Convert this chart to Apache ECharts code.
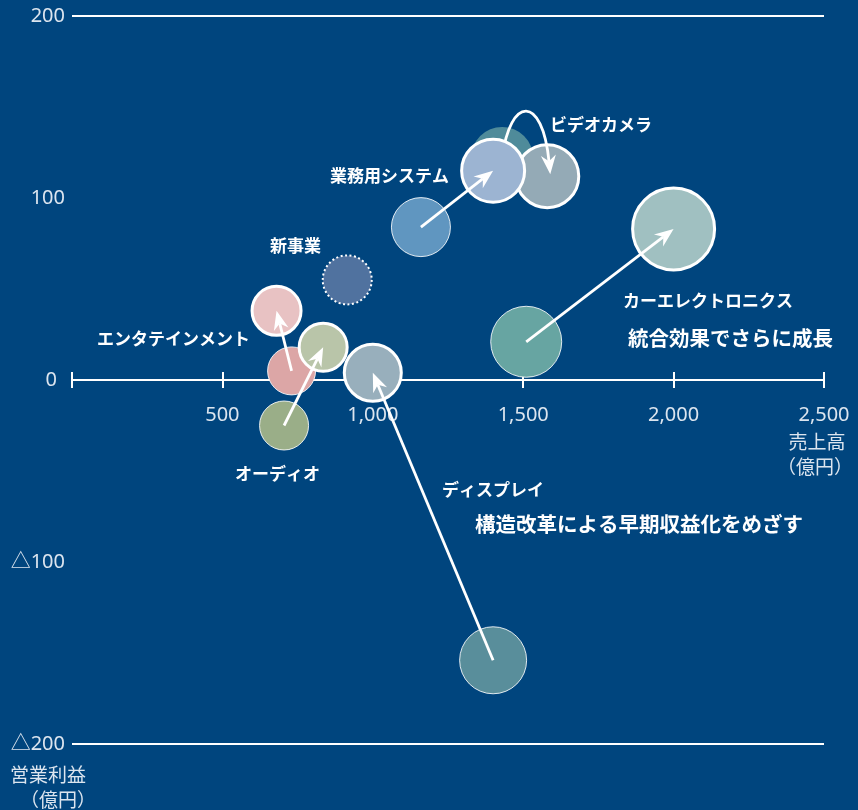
<!DOCTYPE html>
<html>
<head>
<meta charset="utf-8">
<script src="https://cdn.jsdelivr.net/npm/echarts@6/dist/echarts.min.js"></script>
<style>
html,body{margin:0;padding:0;background:#00457e;}
#chart{width:858px;height:810px;}
</style>
</head>
<body>
<div id="chart"></div>
<script>
// ---- data ----
const segments = ['ビデオカメラ', '業務用システム', 'カーエレクトロニクス', 'ディスプレイ', 'オーディオ', 'エンタテインメント'];
const salesBefore  = [1430, 1160, 1510, 1400, 705, 730];
const profitBefore = [122, 84, 21, -154, -25, 5];
const salesAfter   = [1580, 1400, 2000, 1000, 835, 680];
const profitAfter  = [112, 115, 83, 4, 18, 38];
const sizeBefore   = [62, 59, 71, 67, 49, 48];
const sizeAfter    = [63, 63, 82, 57, 48, 49];
const newBizName = '新事業';
const newBizSales = [915];
const newBizProfit = [55];
const newBizSize = [49];
const salesTicks = [0, 500, 1000, 1500, 2000, 2500];
const profitTicks = [-200, -100, 0, 100, 200];
const xAxisName = ['売上高', '（億円）'];
const yAxisName = ['営業利益', '（億円）'];
const notes = ['統合効果でさらに成長', '構造改革による早期収益化をめざす'];

// ---- styles ----
const BG = '#00457e';
const colorsBefore = ['#4f8b9a', '#6096c0', '#67a5a2', '#598e9b', '#9aae88', '#dca6a6'];
const colorsAfter  = ['#94aab6', '#9cb4d2', '#a0c0c1', '#98afbc', '#b9c5a9', '#e8c2c3'];
const newBizColor = '#50729f';
const tickColor = '#dce5ef';
const JP = '"Noto Sans CJK JP", "Noto Sans", sans-serif';
const NUM = '"Noto Sans", sans-serif';

const GRID_TOP = 16, GRID_BOTTOM = 66, CHART_H = 810;
const plotH = CHART_H - GRID_TOP - GRID_BOTTOM;
const zeroShift = -plotH * (0 - profitTicks[0]) / (profitTicks[profitTicks.length - 1] - profitTicks[0]);

const chart = echarts.init(document.getElementById('chart'), null, {renderer: 'canvas'});

function fmtX(v) { return v === 0 ? '' : v.toLocaleString('en-US'); }
function fmtY(v) { return v > 0 ? String(v) : (v < 0 ? '△' + (-v) : '{z|0}'); }

const beforeData = segments.map((s, i) => ({
  name: s, value: [salesBefore[i], profitBefore[i]], symbolSize: sizeBefore[i],
  itemStyle: {color: colorsBefore[i], opacity: 1, borderColor: 'rgba(255,255,255,0.85)', borderWidth: i === 0 ? 0 : 1}
}));
beforeData.push({
  name: newBizName, value: [newBizSales[0], newBizProfit[0]], symbolSize: newBizSize[0],
  itemStyle: {color: newBizColor, opacity: 1, borderColor: '#ffffff', borderWidth: 2, borderType: [2, 2.5]}
});
const afterItem = i => ({
  name: segments[i], value: [salesAfter[i], profitAfter[i]], symbolSize: sizeAfter[i],
  itemStyle: {color: colorsAfter[i], opacity: 1, borderColor: '#ffffff', borderWidth: 3}
});
const cameraAfterData = [afterItem(0)];
const otherAfterData = [1, 2, 3, 4, 5].map(afterItem);

const arrowData = segments.map((s, i) => [salesBefore[i], profitBefore[i], salesAfter[i], profitAfter[i]]);

const HEAD = 19, HALF = 7.5, NOTCH = 13;
function head(tip, ux, uy) {
  const nx = -uy, ny = ux;
  const base = [tip[0] - ux * NOTCH, tip[1] - uy * NOTCH];
  return {
    base: base,
    el: {type: 'polygon', shape: {points: [
      tip,
      [tip[0] - ux * HEAD + nx * HALF, tip[1] - uy * HEAD + ny * HALF],
      base,
      [tip[0] - ux * HEAD - nx * HALF, tip[1] - uy * HEAD - ny * HALF]
    ]}, style: {fill: '#ffffff'}}
  };
}
function straightArrow(params, api) {
  const p0 = api.coord([api.value(0), api.value(1)]);
  const p1 = api.coord([api.value(2), api.value(3)]);
  const dx = p1[0] - p0[0], dy = p1[1] - p0[1];
  const L = Math.hypot(dx, dy);
  const ux = dx / L, uy = dy / L;
  const h = head(p1, ux, uy);
  return {type: 'group', children: [
    {type: 'line', shape: {x1: p0[0], y1: p0[1], x2: h.base[0], y2: h.base[1]}, style: {stroke: '#ffffff', lineWidth: 2.8}},
    h.el
  ]};
}
function curvedArrow(params, api) {
  const p0 = api.coord([api.value(0), api.value(1)]);
  const p1 = api.coord([api.value(2), api.value(3)]);
  const tip = [p1[0] + 3, p1[1] - 2];
  const c1 = [p0[0] + 8, p0[1] - 62];
  const c2 = [tip[0] - 8, tip[1] - 80];
  const dx = tip[0] - c2[0], dy = tip[1] - c2[1];
  const L = Math.hypot(dx, dy);
  const ux = dx / L, uy = dy / L;
  const h = head(tip, ux, uy);
  return {type: 'group', children: [
    {type: 'bezierCurve', shape: {x1: p0[0], y1: p0[1], cpx1: c1[0], cpy1: c1[1], cpx2: c2[0], cpy2: c2[1], x2: h.base[0], y2: h.base[1]},
     style: {stroke: '#ffffff', lineWidth: 2.8, fill: null}},
    h.el
  ]};
}

const lbl = (text, x, y, size, align) => ({
  type: 'text', x: x, y: y, silent: true,
  style: {text: text, fill: '#ffffff', font: 'bold ' + size + 'px ' + JP, textAlign: align || 'left', textVerticalAlign: 'middle'}
});
const axisTxt = (text, x, y, align) => ({
  type: 'text', x: x, y: y, silent: true,
  style: {text: text, fill: tickColor, font: '19px ' + JP, textAlign: align || 'left', textVerticalAlign: 'middle'}
});

const xBase = {
  type: 'value', min: salesTicks[0], max: salesTicks[salesTicks.length - 1], interval: salesTicks[1] - salesTicks[0],
  position: 'bottom', offset: zeroShift, splitLine: {show: false}
};

const option = {
  backgroundColor: BG,
  animation: false,
  grid: {left: 72, right: 34, top: GRID_TOP, bottom: GRID_BOTTOM, containLabel: false},
  xAxis: [Object.assign({}, xBase, {
    axisLine: {show: true, onZero: false, lineStyle: {color: '#ffffff', width: 2}},
    axisTick: {show: true, length: 8, lineStyle: {color: '#ffffff', width: 2}},
    axisLabel: {formatter: fmtX, color: tickColor, fontSize: 20, margin: 25, fontFamily: NUM}
  }), Object.assign({}, xBase, {
    axisLine: {show: false, onZero: false},
    axisTick: {show: true, inside: true, length: 8, lineStyle: {color: '#ffffff', width: 2}},
    axisLabel: {show: false}
  })],
  yAxis: [{
    type: 'value', min: profitTicks[0], max: profitTicks[profitTicks.length - 1], interval: profitTicks[1] - profitTicks[0],
    axisLine: {show: false, onZero: false}, axisTick: {show: false}, splitLine: {show: false},
    axisLabel: {formatter: fmtY, color: tickColor, fontSize: 20, margin: 7, fontFamily: '"Noto Sans", "Noto Sans CJK JP", sans-serif',
      rich: {z: {color: tickColor, fontSize: 20, padding: [0, 8, 0, 0], fontFamily: NUM}}}
  }],
  series: [
    {
      type: 'scatter', name: 'before', xAxisIndex: 0, yAxisIndex: 0, z: 2, silent: true,
      data: beforeData,
      markLine: {
        silent: true, symbol: ['none', 'none'], label: {show: false},
        lineStyle: {color: '#ffffff', width: 2, type: 'solid', opacity: 1},
        data: [{yAxis: profitTicks[profitTicks.length - 1]}, {yAxis: profitTicks[0]}]
      }
    },
    {type: 'scatter', name: 'cameraAfter', z: 3, silent: true, data: cameraAfterData},
    {type: 'custom', name: 'cameraArrow', z: 4, silent: true, renderItem: curvedArrow,
      encode: {x: [0, 2], y: [1, 3]}, data: [arrowData[0]]},
    {type: 'scatter', name: 'after', z: 5, silent: true, data: otherAfterData},
    {type: 'custom', name: 'arrows', z: 6, silent: true, renderItem: straightArrow,
      encode: {x: [0, 2], y: [1, 3]}, data: arrowData.slice(1)}
  ],
  graphic: [
    lbl(segments[0], 550, 125, 17),
    lbl(segments[1], 449, 176, 17, 'right'),
    lbl(newBizName, 270, 246, 17),
    lbl(segments[2], 623, 301, 17),
    lbl(notes[0], 628, 338, 20.5),
    lbl(segments[5], 250, 339, 17, 'right'),
    lbl(segments[4], 235, 474, 17),
    lbl(segments[3], 442, 490, 17),
    lbl(notes[1], 475, 524, 20.5),
    axisTxt(xAxisName[0], 817, 442, 'center'),
    axisTxt(xAxisName[1], 815, 467, 'center'),
    axisTxt(yAxisName[0], 10, 775, 'left'),
    axisTxt(yAxisName[1], 20, 800, 'left')
  ]
};
chart.setOption(option);
</script>
</body>
</html>
